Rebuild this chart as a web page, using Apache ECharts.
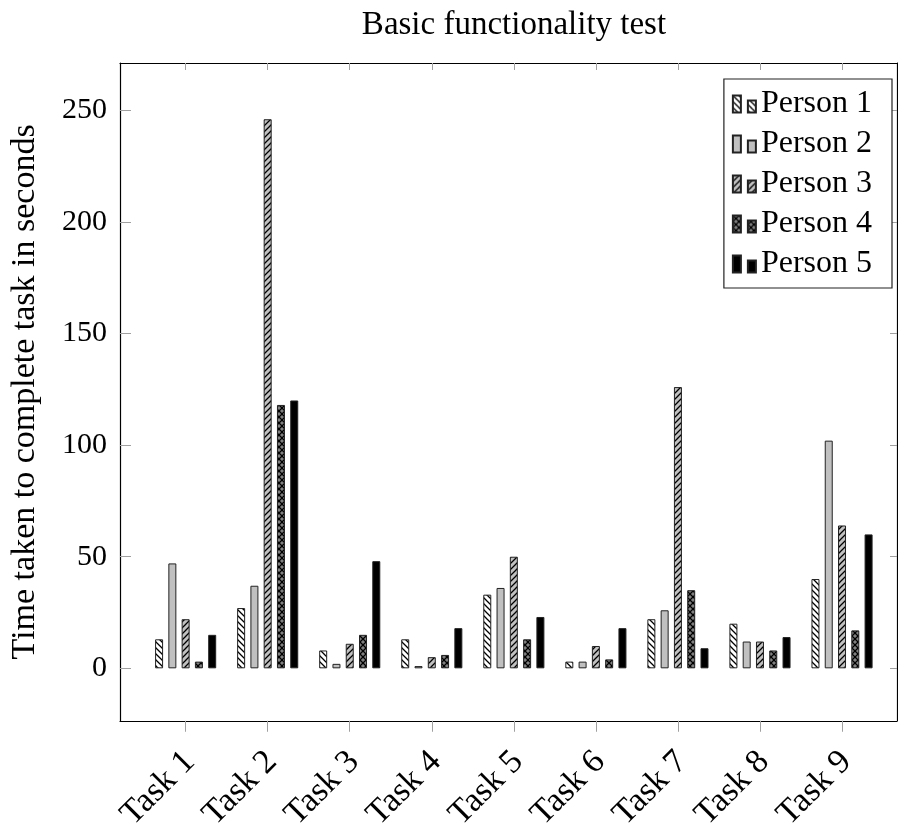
<!DOCTYPE html>
<html>
<head>
<meta charset="utf-8">
<script src="https://cdn.jsdelivr.net/npm/echarts@6/dist/echarts.min.js"></script>
<style>
html,body{margin:0;padding:0;background:#fff;overflow:hidden;}
#chart{width:898px;height:834px;}
</style>
</head>
<body>
<div id="chart"></div>
<script>
// ---- data ----
const categories = ['Task 1','Task 2','Task 3','Task 4','Task 5','Task 6','Task 7','Task 8','Task 9'];
const seriesNames = ['Person 1','Person 2','Person 3','Person 4','Person 5'];
const person1 = [13, 27, 8, 13, 33, 3, 22, 20, 40];
const person2 = [47, 37, 2, 1, 36, 3, 26, 12, 102];
const person3 = [22, 246, 11, 5, 50, 10, 126, 12, 64];
const person4 = [3, 118, 15, 6, 13, 4, 35, 8, 17];
const person5 = [15, 120, 48, 18, 23, 18, 9, 14, 60];
const yTicks = [0, 50, 100, 150, 200, 250];
const titleText = 'Basic functionality test';
const yAxisTitle = 'Time taken to complete task in seconds';

// ---- patterns ----
function makePattern(bg, nw, ne, size) {
  const c = document.createElement('canvas');
  c.width = size; c.height = size;
  const g = c.getContext('2d');
  g.fillStyle = bg; g.fillRect(0, 0, size, size);
  g.strokeStyle = '#000'; g.lineWidth = 1.3;
  if (nw) {
    g.beginPath();
    for (let k = -1; k <= 1; k++) {
      g.moveTo(k * size - 1, -1); g.lineTo(k * size + size + 1, size + 1);
    }
    g.stroke();
  }
  if (ne) {
    g.beginPath();
    for (let k = -1; k <= 1; k++) {
      g.moveTo(k * size - 1, size + 1); g.lineTo(k * size + size + 1, -1);
    }
    g.stroke();
  }
  return { image: c, repeat: 'repeat' };
}
const fills = [
  makePattern('#ffffff', true, false, 6),
  '#c0c0c0',
  makePattern('#c0c0c0', false, true, 6),
  makePattern('#808080', true, true, 6),
  '#000000'
];
const allData = [person1, person2, person3, person4, person5];

const xMin = 0.2, xMax = 9.67;
const tickPos = categories.map((c, i) => i + 1);
const labelPos = categories.map((c, i) => i + 1.05);
const FONT = "'Liberation Serif', 'Times New Roman', serif";

const chart = echarts.init(document.getElementById('chart'), null, {renderer: 'canvas'});
const option = {
  animation: false,
  backgroundColor: '#fff',
  textStyle: {fontFamily: FONT, color: '#000'},
  title: {
    text: titleText,
    left: 509, top: 4,
    textAlign: 'center',
    textStyle: {fontFamily: FONT, fontSize: 33, fontWeight: 'normal', color: '#000'}
  },
  legend: {
    orient: 'vertical',
    right: 6, top: 79,
    backgroundColor: '#fff',
    borderColor: '#222', borderWidth: 1.2,
    padding: [9, 20, 8, 8],
    itemWidth: 23, itemHeight: 17, itemGap: 8,
    icon: 'path://M0,0h8v17h-8zM15,5h8v12h-8z',
    textStyle: {fontFamily: FONT, fontSize: 32, color: '#000', lineHeight: 30},
    data: seriesNames
  },
  grid: {left: 120, right: 1, top: 63, bottom: 106, containLabel: false},
  xAxis: [{
    type: 'value', min: xMin, max: xMax, position: 'bottom',
    axisLine: {show: true, onZero: false, lineStyle: {color: '#000', width: 1.2}},
    axisTick: {show: true, inside: false, length: 11, customValues: tickPos, lineStyle: {color: '#a0a0a0', width: 1}},
    axisLabel: {
      show: true, customValues: labelPos, rotate: 45, margin: 36,
      fontFamily: FONT, fontSize: 34, color: '#000',
      formatter: v => categories[Math.round(v) - 1] || ''
    },
    splitLine: {show: false}
  }, {
    type: 'value', min: xMin, max: xMax, position: 'top',
    axisLine: {show: true, onZero: false, lineStyle: {color: '#000', width: 1.2}},
    axisTick: {show: true, inside: true, length: 7, customValues: tickPos, lineStyle: {color: '#a0a0a0', width: 1}},
    axisLabel: {show: false},
    splitLine: {show: false}
  }],
  yAxis: [{
    type: 'value', min: -23.5, max: 271.2, position: 'left',
    name: yAxisTitle, nameLocation: 'middle', nameGap: 78,
    nameTextStyle: {fontFamily: FONT, fontSize: 34, color: '#000'},
    axisLine: {show: true, onZero: false, lineStyle: {color: '#000', width: 1.2}},
    axisTick: {show: true, inside: true, length: 11, customValues: yTicks, lineStyle: {color: '#a0a0a0', width: 1}},
    axisLabel: {show: true, customValues: yTicks, margin: 13, fontFamily: FONT, fontSize: 30, color: '#000'},
    splitLine: {show: false}
  }, {
    type: 'value', min: -23.5, max: 271.2, position: 'right',
    axisLine: {show: true, onZero: false, lineStyle: {color: '#000', width: 1.2}},
    axisTick: {show: true, inside: true, length: 7, customValues: yTicks, lineStyle: {color: '#a0a0a0', width: 1}},
    axisLabel: {show: false},
    splitLine: {show: false}
  }],
  series: seriesNames.map((name, s) => ({
    name: name,
    type: 'bar',
    xAxisIndex: 0, yAxisIndex: 0,
    barWidth: 8,
    barGap: '66%',
    itemStyle: {color: fills[s], borderColor: '#222', borderWidth: 1},
    data: allData[s].map((v, i) => [tickPos[i], v])
  }))
};
chart.setOption(option);
</script>
</body>
</html>
